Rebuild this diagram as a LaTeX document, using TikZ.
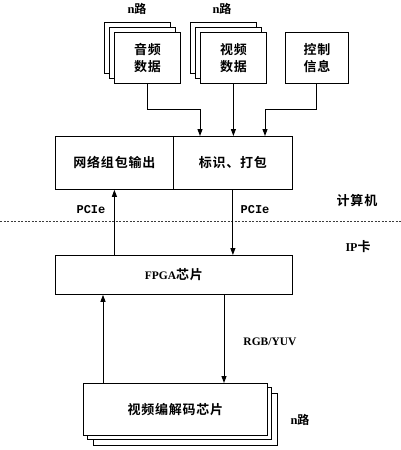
\documentclass[tikz,border=0pt]{standalone}
\usepackage{fontspec}
\usepackage{tikz}
\usetikzlibrary{calc,arrows.meta,positioning}
\setmainfont{Liberation Serif}
\newfontfamily\cjk{Noto Sans CJK SC}[BoldFont={Noto Sans CJK SC Bold},LetterSpace=6]
\newfontfamily\monoFont{Liberation Mono}
\definecolor{lineGray}{RGB}{60,60,60}
\tikzset{
  boxPlain/.style={draw=black,fill=white,line width=0.8pt,anchor=north west,inner sep=0pt,align=center},
  arrowLine/.style={line width=1pt,-{Triangle[length=7pt,width=5pt]}},
  cnText/.style={font=\cjk\bfseries\fontsize{13}{17}\selectfont},
  pcieText/.style={font=\monoFont\bfseries\fontsize{12}{14}\selectfont},
}
\newcommand{\LuLabel}{{\bfseries\fontsize{12.5}{14}\selectfont n}{\cjk\bfseries\fontsize{12}{14}\selectfont 路}}

\begin{document}
\begin{tikzpicture}[x=1pt,y=-1pt]
\useasboundingbox (0,0) rectangle (401,450);
% audio stack
\node[boxPlain,minimum width=66pt,minimum height=51pt] (audB) at (104,22) {};
\node[boxPlain,minimum width=66pt,minimum height=51pt] (audM) at (109,27) {};
\node[boxPlain,minimum width=66pt,minimum height=51pt,cnText] (audF) at (114,32) {音频\\数据};
\node (audN) at (137,9) {\LuLabel};
% video stack
\node[boxPlain,minimum width=66pt,minimum height=51pt] (vidB) at (190,22) {};
\node[boxPlain,minimum width=66pt,minimum height=51pt] (vidM) at (195,27) {};
\node[boxPlain,minimum width=66pt,minimum height=51pt,cnText] (vidF) at (200,32) {视频\\数据};
\node (vidN) at (222,9) {\LuLabel};
% control
\node[boxPlain,minimum width=63pt,minimum height=51pt,cnText] (ctlF) at (285,32) {控制\\信息};

% computer side
\node[boxPlain,minimum width=118pt,minimum height=53pt,cnText] (net) at (55,136) {网络组包输出};
\node[boxPlain,minimum width=119pt,minimum height=53pt,cnText] (pack) at (173,136) {标识、打包};

\coordinate (inA) at (200,136);
\coordinate (inC) at (265,136);
\draw[arrowLine] (audF.south) -- ++(0,26) -| (inA);
\draw[arrowLine] (vidF.south) -- (vidF.south |- pack.north);
\draw[arrowLine] (ctlF.south) -- ++(0,26) -| (inC);

% border computer / card
\draw[lineGray,line width=0.7pt,dash pattern=on 2pt off 1.5pt] (0,221) -- (401,221);
\node[cnText] (pcLbl) at (357,201) {计算机};
\node (ipLbl) at (358,247) {{\bfseries\fontsize{12}{13}\selectfont IP}{\cjk\bfseries\fontsize{13}{15}\selectfont 卡}};

% FPGA
\node[boxPlain,minimum width=237pt,minimum height=39pt] (fpga) at (55,255) {{\bfseries\fontsize{11.5}{12}\selectfont FPGA}{\cjk\bfseries\fontsize{13}{15}\selectfont 芯片}};
\draw[arrowLine] (net.south |- fpga.north) -- (net.south);
\draw[arrowLine] (pack.south) -- (pack.south |- fpga.north);
\node[pcieText] (pcieL) at (91,210) {PCIe};
\node[pcieText] (pcieR) at (255,210) {PCIe};

% codec stack
\node[boxPlain,minimum width=184pt,minimum height=52pt] (codB) at (93,393) {};
\node[boxPlain,minimum width=184pt,minimum height=52pt] (codM) at (87,387) {};
\node[boxPlain,minimum width=184pt,minimum height=52pt,cnText] (codF) at (83,383) {视频编解码芯片};
\node (codN) at (300,420) {\LuLabel};

\coordinate (upA) at ($(codF.north west)+(20,0)$);
\coordinate (dnA) at ($(codF.north west)+(141,0)$);
\draw[arrowLine] (upA) -- (upA |- fpga.south);
\draw[arrowLine] (dnA |- fpga.south) -- (dnA);
\node[font=\bfseries\fontsize{11.5}{12}\selectfont] (rgbLbl) at (270,342) {RGB/YUV};
\end{tikzpicture}
\end{document}
